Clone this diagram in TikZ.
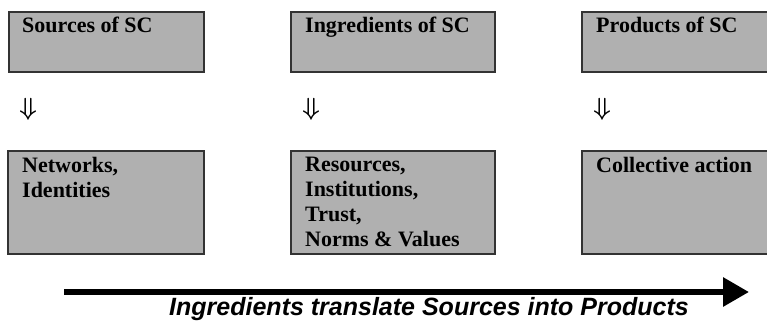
\documentclass[tikz,border=0pt]{standalone}
\usepackage{amsmath}
\usepackage{fontspec}
\setmainfont{Liberation Serif}
\newfontfamily\arialfont{Liberation Sans}
\usetikzlibrary{arrows.meta}
\definecolor{boxfill}{HTML}{B0B0B0}
\definecolor{boxline}{HTML}{333333}
\tikzset{
  scbox/.style={draw=boxline, fill=boxfill, line width=2pt, rectangle, inner sep=0pt, anchor=north west},
  sctext/.style={anchor=north west, inner sep=0pt, align=left,
    font=\fontsize{22}{25}\selectfont\bfseries},
  dnarrow/.style={inner sep=0pt, font=\fontsize{23}{23}\selectfont},
  bigarrow/.style={line width=6pt, -{Triangle[length=26pt,width=28pt]}},
  caption/.style={inner sep=0pt, anchor=base, font=\arialfont\bfseries\itshape\fontsize{25}{25}\selectfont}
}
\begin{document}
\begin{tikzpicture}[x=1pt,y=-1pt]
\useasboundingbox (0,0) rectangle (767,321);
% top row
\node[scbox, minimum width=195pt, minimum height=60pt] (s1) at (8,11) {};
\node[scbox, minimum width=204pt, minimum height=60pt] (s2) at (290,11) {};
\node[scbox, minimum width=200pt, minimum height=60pt] (s3) at (581,11) {};
\node[sctext] (t1) at (22,17) {Sources of SC};
\node[sctext] (t2) at (305,17) {Ingredients of SC};
\node[sctext] (t3) at (596,17) {Products of SC};
% down arrows
\node[dnarrow] (d1) at (28,109) {$\boldsymbol{\Downarrow}$};
\node[dnarrow] (d2) at (311,109) {$\boldsymbol{\Downarrow}$};
\node[dnarrow] (d3) at (602,109) {$\boldsymbol{\Downarrow}$};
% bottom row
\node[scbox, minimum width=196pt, minimum height=103pt] (b1) at (7,150) {};
\node[scbox, minimum width=204pt, minimum height=103pt] (b2) at (290,150) {};
\node[scbox, minimum width=200pt, minimum height=103pt] (b3) at (581,150) {};
\node[sctext] (u1) at (22,157) {Networks,\\Identities};
\node[sctext] (u2) at (305,157) {Resources,\\Institutions,\\Trust,\\Norms \& Values};
\node[sctext] (u3) at (596,157) {Collective action};
% bottom arrow
\coordinate (a0) at (64,292);
\coordinate (a1) at (749,292);
\draw[bigarrow] (a0) -- (a1);
\node[caption] (cap) at (429,315) {Ingredients translate Sources into Products};
\end{tikzpicture}
\end{document}
